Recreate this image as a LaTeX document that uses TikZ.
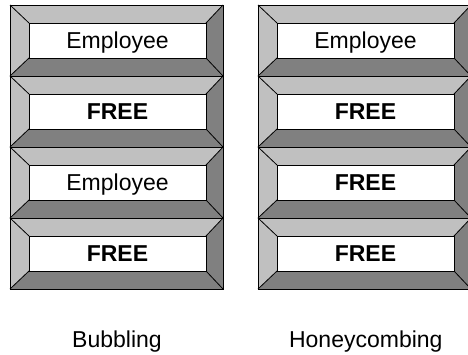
\documentclass[tikz,border=0pt]{standalone}
\usepackage{fontspec}
\setmainfont{Liberation Sans}

\definecolor{bevellight}{HTML}{C0C0C0}
\definecolor{beveldark}{HTML}{808080}

\tikzset{
  edge line/.style={draw=black, line width=0.8pt, line join=miter},
  face/.style={edge line, fill=white, minimum width=177pt, minimum height=35pt,
               inner sep=0pt, outer sep=0pt},
  plain text/.style={font=\fontsize{23}{26}\selectfont, anchor=base},
  bold text/.style={font=\fontsize{23}{26}\selectfont\bfseries, anchor=base},
  caption/.style={font=\fontsize{23}{26}\selectfont, anchor=base},
}

% A raised slot: outer frame 213 x 71, inner face 177 x 35
% #1 name, #2 left x, #3 top y, #4 text style, #5 text
\newcommand{\slotbox}[5]{%
  \begin{scope}[shift={(#2,#3)}]
    \fill[bevellight] (0,0) -- (213,0) -- (196,18) -- (19,18) -- (19,53) -- (0,71) -- cycle;
    \fill[beveldark] (213,0) -- (213,71) -- (0,71) -- (19,53) -- (196,53) -- (196,18) -- cycle;
    \draw[edge line] (0,0) rectangle (213,71);
    \draw[edge line] (0,0) -- (19,18) (213,0) -- (196,18)
                     (0,71) -- (19,53) (213,71) -- (196,53);
    \node[face] (#1) at (107.5,35.5) {};
    \node[#4] (#1-text) at (107.5,43.7) {#5};
  \end{scope}%
}

\begin{document}
\begin{tikzpicture}[x=1pt, y=-1pt]
  \clip (0,0) rectangle (468,354);
  \fill[white] (0,0) rectangle (468,354);

  % left column
  \slotbox{b1}{10}{5}{plain text}{Employee}
  \slotbox{b2}{10}{76}{bold text}{FREE}
  \slotbox{b3}{10}{147}{plain text}{Employee}
  \slotbox{b4}{10}{218}{bold text}{FREE}

  % right column
  \slotbox{h1}{258}{5}{plain text}{Employee}
  \slotbox{h2}{258}{76}{bold text}{FREE}
  \slotbox{h3}{258}{147}{bold text}{FREE}
  \slotbox{h4}{258}{218}{bold text}{FREE}

  \node[caption] (bubbling) at (117,347) {Bubbling};
  \node[caption] (honeycombing) at (365.8,347) {Honeycombing};
\end{tikzpicture}
\end{document}
